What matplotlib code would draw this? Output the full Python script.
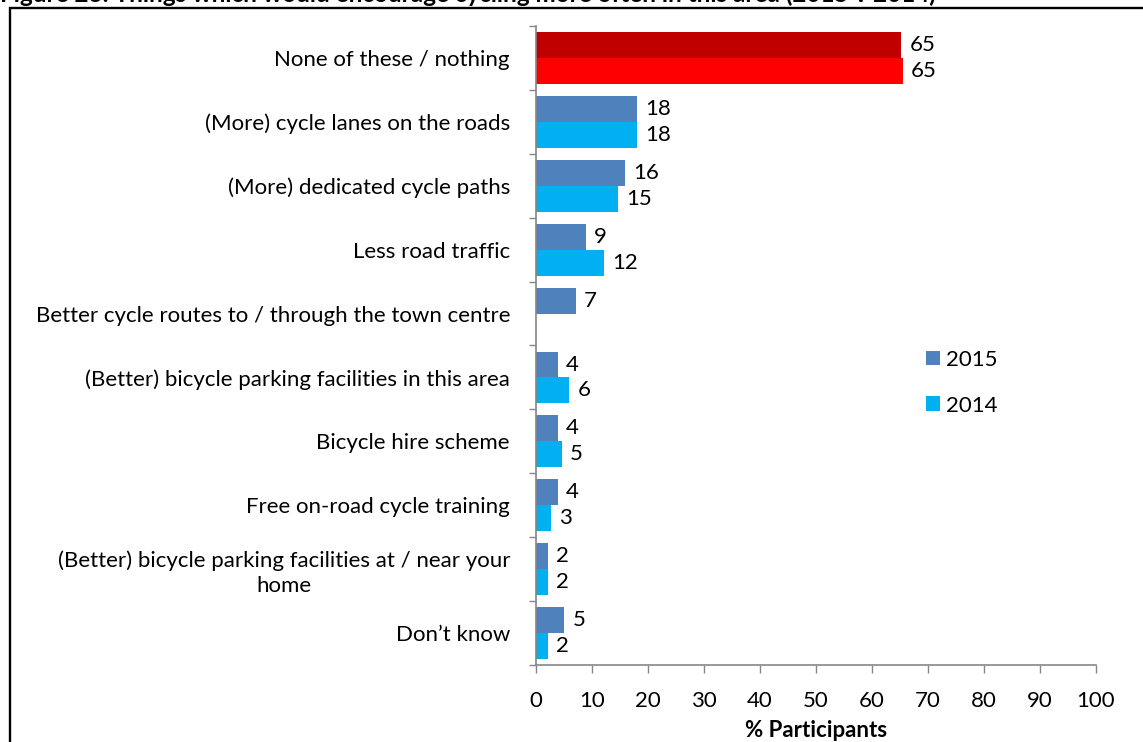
import matplotlib
matplotlib.use("Agg")
import matplotlib.pyplot as plt
import numpy as np
from matplotlib.patches import Patch

plt.rcParams['font.family'] = ['Lato', 'DejaVu Sans']

categories = [
    "None of these / nothing",
    "(More) cycle lanes on the roads",
    "(More) dedicated cycle paths",
    "Less road traffic",
    "Better cycle routes to / through the town centre",
    "(Better) bicycle parking facilities in this area",
    "Bicycle hire scheme",
    "Free on-road cycle training",
    "(Better) bicycle parking facilities at / near your\nhome",
    "Don\u2019t know",
]
values_2015 = [65.2, 18.0, 15.9, 8.9, 7.1, 3.9, 3.9, 3.9, 2.1, 5.0]
values_2014 = [65.45, 18.1, 14.6, 12.1, np.nan, 5.9, 4.6, 2.7, 2.1, 2.1]

color_2015 = "#4F81BD"
color_2014 = "#00B0F0"
highlight_2015 = "#C00000"
highlight_2014 = "#FF0000"
axis_grey = "#868686"

fig = plt.figure(figsize=(11.43, 7.42), dpi=100)
ax = fig.add_axes([536 / 1143, 1 - 665 / 742, 560 / 1143, 639 / 742])

n = len(categories)
pos = np.arange(n)
h = 0.405

cols15 = [highlight_2015] + [color_2015] * (n - 1)
cols14 = [highlight_2014] + [color_2014] * (n - 1)

ax.barh(pos - h / 2, values_2015, height=h, color=cols15, edgecolor='none')
ax.barh(pos + h / 2, values_2014, height=h, color=cols14, edgecolor='none')

fs = 16
for i in range(n):
    for y, v in ((pos[i] - h / 2, values_2015[i]), (pos[i] + h / 2, values_2014[i])):
        if np.isnan(v):
            continue
        ax.annotate(f"{v:.0f}", xy=(v, y), xytext=(6, 0), textcoords='offset points',
                    va='center', ha='left', fontsize=fs, color='black')

ax.set_xlim(0, 100)
ax.set_ylim(n - 0.5, -0.5)
ax.set_xticks(np.arange(0, 101, 10))
ax.tick_params(axis='x', direction='out', length=6, width=1, color=axis_grey,
               labelsize=fs, pad=13)

ax.set_yticks(np.arange(-0.5, n, 1.0))
ax.set_yticklabels([])
ax.tick_params(axis='y', which='major', direction='out', length=5, width=1, color=axis_grey)
ax.set_yticks(pos, minor=True)
ax.set_yticklabels(categories, minor=True, fontsize=fs, multialignment='center',
                   linespacing=1.3)
ax.tick_params(axis='y', which='minor', length=0, pad=26 * 0.72)

for s in ('top', 'right'):
    ax.spines[s].set_visible(False)
for s in ('left', 'bottom'):
    ax.spines[s].set_color(axis_grey)
    ax.spines[s].set_linewidth(1.2)

ax.set_xlabel("% Participants", fontsize=fs, fontweight='bold', labelpad=6)

handles = [Patch(facecolor=color_2015, edgecolor='none', label='2015'),
           Patch(facecolor=color_2014, edgecolor='none', label='2014')]
fig.legend(handles=handles, loc='upper left', bbox_to_anchor=(906 / 1143, 1 - 330 / 742),
           frameon=False, fontsize=fs, handlelength=0.63, handleheight=0.63,
           handletextpad=0.25, labelspacing=1.15)

# outer frame of the figure panel
fig.add_artist(plt.Rectangle((9.5 / 1143, -0.05), 1.2, 1 - 8.3 / 742 + 0.05,
                             transform=fig.transFigure, fill=False,
                             edgecolor='black', linewidth=1.7))

fig.text(0.0, 1 - 2.0 / 742,
         "Figure 23: Things which would encourage cycling more often in this area (2015 v 2014)",
         fontsize=17.5, fontweight='bold', ha='left', va='baseline')

fig.savefig("out.png", dpi=100)
